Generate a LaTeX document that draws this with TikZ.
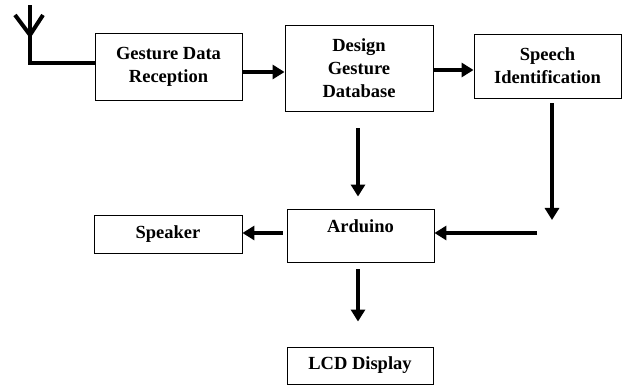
\documentclass[tikz,border=0pt]{standalone}
\usepackage{fontspec}
\setmainfont{Liberation Serif}
\usetikzlibrary{arrows.meta,calc}
\begin{document}
\begin{tikzpicture}[x=1pt,y=-1pt,
  blk/.style={draw,line width=0.9pt,align=center,inner sep=0pt,
    font=\fontsize{18.5}{23}\selectfont\bfseries},
  arr/.style={line width=3.6pt,-{Triangle[length=12pt,width=14pt]}},
  antl/.style={line width=4pt}]
\useasboundingbox (0,0) rectangle (625,387);
\node[blk,minimum width=147pt,minimum height=67pt] (gdr) at (168.5,66.5) {Gesture Data\\Reception};
\node[blk,minimum width=148pt,minimum height=86pt] (dgd) at (359,68) {Design\\Gesture\\Database};
\node[blk,minimum width=147pt,minimum height=64pt] (si) at (547.5,66) {Speech\\Identification};
\node[blk,minimum width=147pt,minimum height=53pt,text height=13pt,text depth=18pt] (ard) at (360.5,235.5) {Arduino};
\node[blk,minimum width=148pt,minimum height=38pt] (spk) at (168,234) {Speaker};
\node[blk,minimum width=146pt,minimum height=37pt] (lcd) at (360,365.5) {LCD Display};
% antenna
\coordinate (ant) at (30,63);
\coordinate (anttop) at (30,5);
\coordinate (armjoin) at (30,35);
\coordinate (arml) at (15,15);
\coordinate (armr) at (43,15);
\draw[antl,line join=miter] (gdr.west |- ant) -- (ant) -- (anttop);
\draw[antl,line join=miter] (arml) -- (armjoin) -- (armr);
% arrows
\draw[arr] (gdr.east |- 0,72) -- (dgd.west |- 0,72);
\draw[arr] (dgd.east |- 0,70) -- (si.west |- 0,70);
\draw[arr,shorten <=17pt,shorten >=12pt] (dgd.south -| 358,0) -- (ard.north -| 358,0);
\coordinate (c1) at (552,220);
\draw[arr,shorten <=5pt] (si.south -| c1) -- (c1);
\coordinate (c2) at (537,233);
\draw[arr] (c2) -- (ard.east |- c2);
\draw[arr,shorten <=4pt] (ard.west |- 0,233) -- (spk.east |- 0,233);
\draw[arr,shorten <=7pt,shorten >=25pt] (ard.south -| 358,0) -- (lcd.north -| 358,0);
\end{tikzpicture}
\end{document}
